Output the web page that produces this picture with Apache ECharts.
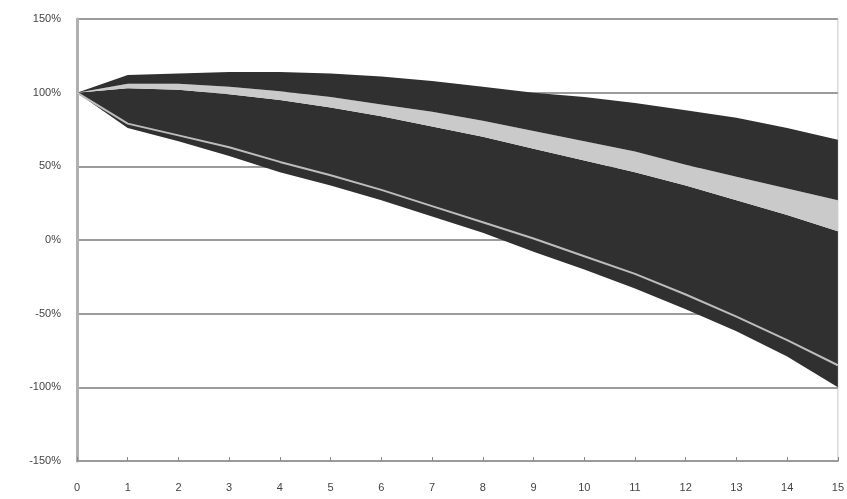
<!DOCTYPE html>
<html><head><meta charset="utf-8">
<script src="https://cdn.jsdelivr.net/npm/echarts@6/dist/echarts.min.js"></script>
<style>html,body{margin:0;padding:0;background:#fff}#c{width:847px;height:499px}</style>
</head><body><div id="c"></div>
<script>
var years = ['0','1','2','3','4','5','6','7','8','9','10','11','12','13','14','15'];
var bottomEdge = [100, 76, 67, 57, 46, 37, 27, 16, 5, -8, -20, -33, -47, -62, -79, -100];
var lowerLine  = [100, 79, 71, 63, 53, 44, 34, 23, 12, 1, -11, -23, -37, -52, -68, -85];
var midLow     = [100, 103, 102, 99, 95, 90, 84, 77, 70, 62, 54, 46, 37, 27, 17, 6];
var midHigh    = [100, 106, 106, 104, 101, 97, 92, 87, 81, 74, 67, 60, 51, 43, 35, 27];
var topEdge    = [100, 112, 113, 114, 114, 113, 111, 108, 104, 100, 97, 93, 88, 83, 76, 68];

function diff(a, b){ return a.map(function(v,i){ return +(v - b[i]).toFixed(2); }); }
var dark = '#303030', light = '#cacaca';
var chart = echarts.init(document.getElementById('c'));
var base = {type:'line', stack:'s', stackStrategy:'all', symbol:'none', smooth:false, silent:true};
chart.setOption({
  animation:false,
  backgroundColor:'#ffffff',
  grid:{left:77, right:9, top:19, bottom:38, show:true, borderColor:'#c8c8c8', borderWidth:1},
  xAxis:{type:'category', data:years, boundaryGap:false,
    axisLine:{show:true, onZero:false, lineStyle:{color:'#9a9a9a', width:2}},
    axisTick:{show:true, inside:true, length:4, lineStyle:{color:'#888'}},
    axisLabel:{color:'#444', fontSize:11, fontFamily:'Liberation Sans', margin:21},
    splitLine:{show:false}},
  yAxis:{type:'value', min:-150, max:150, interval:50,
    axisLine:{show:true, lineStyle:{color:'#b0b0b0', width:3}},
    axisTick:{show:false},
    axisLabel:{formatter:'{value}%', color:'#444', fontSize:11, fontFamily:'Liberation Sans', margin:16},
    splitLine:{show:true, lineStyle:{color:'#9c9c9c', width:2}}},
  series:[
    Object.assign({}, base, {name:'base', data:bottomEdge, lineStyle:{width:0}}),
    Object.assign({}, base, {name:'lower band', data:diff(midLow, bottomEdge), lineStyle:{width:0}, areaStyle:{color:dark, opacity:1}}),
    Object.assign({}, base, {name:'middle band', data:diff(midHigh, midLow), lineStyle:{width:0}, areaStyle:{color:light, opacity:1}}),
    Object.assign({}, base, {name:'upper band', data:diff(topEdge, midHigh), lineStyle:{width:0}, areaStyle:{color:dark, opacity:1}}),
    {type:'line', name:'line', data:lowerLine, symbol:'none', silent:true, lineStyle:{color:'#bdbdbd', width:2}}
  ]
});
</script></body></html>
